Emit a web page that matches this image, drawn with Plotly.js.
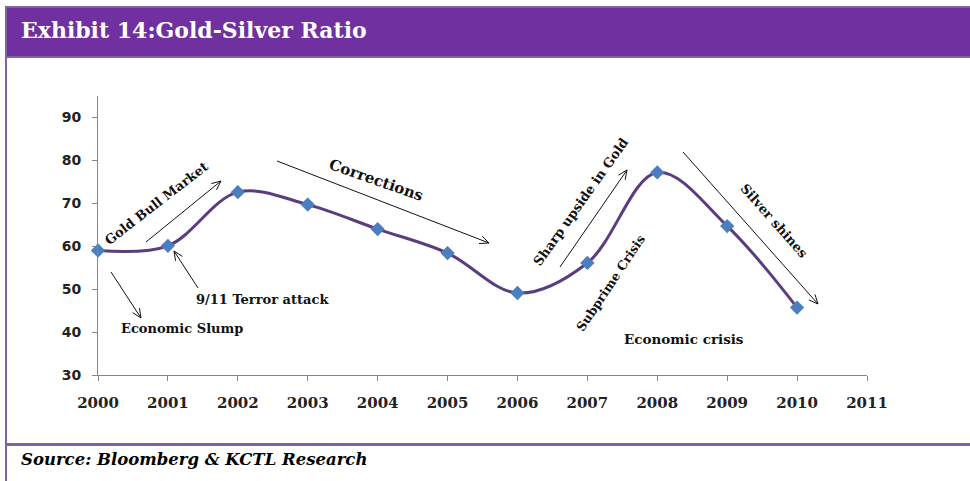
<!DOCTYPE html>
<html>
<head>
<meta charset="utf-8">
<script src="https://cdn.plot.ly/plotly-3.0.1.min.js"></script>
<style>
  html, body { margin: 0; padding: 0; background: #ffffff; }
  #chart { width: 970px; height: 481px; }
</style>
</head>
<body>
<div id="chart"></div>
<script>
// Gold-silver ratio, year-end readings
const years = [2000, 2001, 2002, 2003, 2004, 2005, 2006, 2007, 2008, 2009, 2010];
const ratio = [59.0, 60.1, 72.6, 69.7, 64.0, 58.4, 49.1, 56.1, 77.2, 64.7, 45.7];
const yearTicks = [2000, 2001, 2002, 2003, 2004, 2005, 2006, 2007, 2008, 2009, 2010, 2011];
const ratioTicks = [30, 40, 50, 60, 70, 80, 90];

// Canvas and plot-area geometry (pixels)
const W = 970, H = 481;
const M = { l: 98, r: 103, t: 96, b: 106 };
const PW = W - M.l - M.r, PH = H - M.t - M.b;
const fx = p => (p - M.l) / PW;          // pixel x -> paper x
const fy = p => (H - M.b - p) / PH;      // pixel y -> paper y

const serifB = 'DejaVu Serif';
const frameLight = '#8064a2';
const frameDark = '#7030a0';

// Open "V" arrow drawn as a single path, endpoints in pixels
function arrow(x0, y0, x1, y1) {
  const ang = Math.atan2(y1 - y0, x1 - x0);
  const len = 10, spread = 0.42;
  const a1 = ang + Math.PI - spread, a2 = ang + Math.PI + spread;
  const h1 = [x1 + len * Math.cos(a1), y1 + len * Math.sin(a1)];
  const h2 = [x1 + len * Math.cos(a2), y1 + len * Math.sin(a2)];
  const P = (x, y) => fx(x).toFixed(5) + ',' + fy(y).toFixed(5);
  return {
    type: 'path', xref: 'paper', yref: 'paper',
    path: 'M' + P(x0, y0) + ' L' + P(x1, y1) +
          ' M' + P(h1[0], h1[1]) + ' L' + P(x1, y1) + ' L' + P(h2[0], h2[1]),
    line: { color: '#111111', width: 1 }
  };
}

function rect(x0, y0, x1, y1, color) {
  return {
    type: 'rect', xref: 'paper', yref: 'paper', layer: 'below',
    x0: fx(x0), x1: fx(x1), y0: fy(y1), y1: fy(y0),
    fillcolor: color, line: { width: 0 }
  };
}

function note(text, x, y, size, angle, extra) {
  return Object.assign({
    text: text, xref: 'paper', yref: 'paper', x: fx(x), y: fy(y),
    xanchor: 'center', yanchor: 'middle', showarrow: false,
    textangle: angle || 0,
    font: { family: serifB, size: size, color: '#111111', weight: 'bold' }
  }, extra || {});
}

const shapes = [
  // header band with its lighter border
  rect(5, 6, 970, 58, frameLight),
  rect(7, 8, 970, 56, frameDark),
  // left rule and the rule above the source line
  rect(5, 58, 7, 481, frameLight),
  rect(5, 443, 970, 446, frameLight),
  // commentary arrows
  arrow(111, 272, 141, 318),   // Economic Slump
  arrow(146, 242, 221, 181),   // Gold Bull Market
  arrow(198, 288, 174, 251),   // 9/11
  arrow(277, 161, 489, 243),   // Corrections
  arrow(560, 267, 627, 170),   // Sharp upside in Gold
  arrow(683, 152, 818, 304)    // Silver shines
];

const annotations = [
  note('Exhibit 14:Gold-Silver Ratio', 19, 30, 22, 0,
       { xanchor: 'left', font: { family: serifB, size: 22, color: '#ffffff', weight: 'bold' } }),
  note('Source: Bloomberg &amp; KCTL Research', 19, 460, 16.5, 0,
       { xanchor: 'left', font: { family: serifB, size: 16.5, color: '#000000', weight: 'bold', style: 'italic' } }),
  note('Gold Bull Market', 156, 203, 13, -37.6),
  note('9/11 Terror attack', 262, 299, 13, 0),
  note('Economic Slump', 182, 328, 13, 0),
  note('Corrections', 376, 180, 15, 19.3),
  note('Sharp upside in Gold', 580, 202, 13, -54.5),
  note('Subprime Crisis', 610, 283, 12.5, -56.3),
  note('Silver shines', 774, 220, 13, 48.6),
  note('Economic crisis', 684, 339, 13.5, 0)
];

const trace = {
  type: 'scatter', mode: 'lines+markers',
  x: years, y: ratio,
  cliponaxis: false,
  line: { shape: 'spline', smoothing: 1, color: '#5a3d7e', width: 3 },
  marker: { symbol: 'diamond', size: 11, color: '#4a7ebf' },
  hoverinfo: 'x+y'
};

const layout = {
  width: W, height: H,
  margin: M,
  paper_bgcolor: '#ffffff', plot_bgcolor: '#ffffff',
  showlegend: false,
  xaxis: {
    range: [2000, 2011], tickvals: yearTicks, ticktext: yearTicks.map(String),
    showgrid: false, zeroline: false,
    showline: true, linecolor: '#868686', linewidth: 1,
    ticks: 'outside', ticklen: 5, tickcolor: '#868686',
    ticklabelstandoff: 9,
    tickfont: { family: serifB, size: 15, color: '#222222', weight: 'bold' }
  },
  yaxis: {
    range: [30, 95], tickvals: ratioTicks,
    showgrid: false, zeroline: false,
    showline: true, linecolor: '#868686', linewidth: 1,
    ticks: 'outside', ticklen: 5, tickcolor: '#868686',
    ticklabelstandoff: 8,
    tickfont: { family: 'DejaVu Sans', size: 14, color: '#222222', weight: 'bold' }
  },
  shapes: shapes,
  annotations: annotations
};

Plotly.newPlot('chart', [trace], layout, { staticPlot: true, displayModeBar: false });
</script>
</body>
</html>
